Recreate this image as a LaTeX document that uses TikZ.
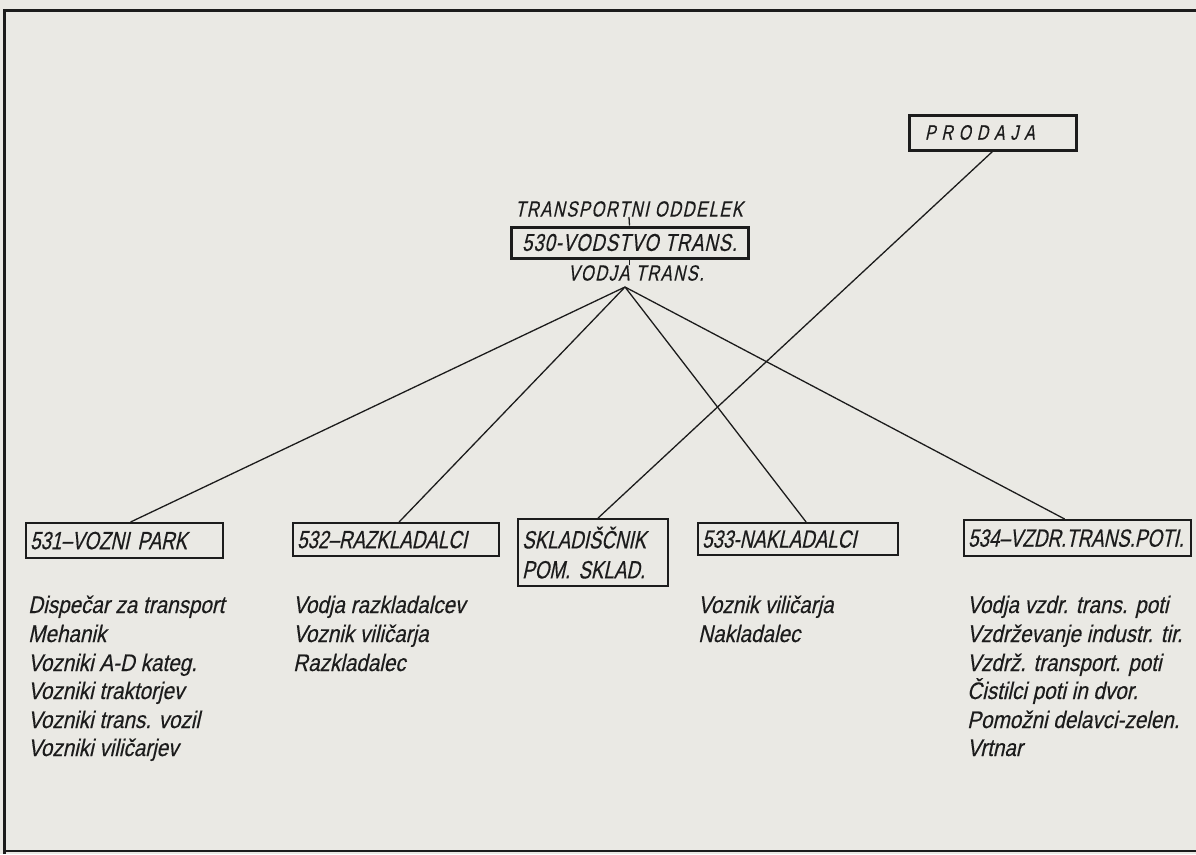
\documentclass[tikz,border=0pt]{standalone}
\usepackage{fontspec}
\newfontfamily\letterfont[FakeSlant=0.22,FakeStretch=0.75,FakeBold=0.4]{Liberation Sans}
\newfontfamily\jobfont[FakeSlant=0.22,FakeStretch=0.86,FakeBold=0.3]{Liberation Sans}
\definecolor{paper}{RGB}{234,233,228}
\definecolor{ink}{RGB}{28,28,28}

\begin{document}
\begin{tikzpicture}[x=1pt, y=-1pt, ink,
  unitbox/.style={draw,line width=2.2pt,anchor=north west,inner xsep=4pt,inner ysep=0pt,align=left,
    font=\letterfont\fontsize{25}{30}\selectfont},
  headbox/.style={draw,line width=3pt,inner sep=0pt,font=\letterfont\addfontfeature{LetterSpace=4}\fontsize{24.5}{28}\selectfont},
  headtext/.style={inner sep=0pt,font=\letterfont\addfontfeature{LetterSpace=7}\fontsize{22}{25}\selectfont},
  jobtext/.style={anchor=base west,inner sep=0pt,font=\jobfont\fontsize{24}{26}\selectfont},
  link/.style={line width=1.3pt}]
\useasboundingbox (0,0) rectangle (1196,854);
\fill[paper] (0,0) rectangle (1196,854);
% frame
\draw[line width=3pt] (4,854) -- (4,10) -- (1196,10);
\draw[line width=2pt] (4,851) -- (1196,851);

% head of the department
\node[headtext] (dept) at (629,209) {TRANSPORTNI ODDELEK};
\node[headbox,minimum width=237pt,minimum height=31pt] (b530) at (629.5,242.5) {530-VODSTVO TRANS.};
\node[headtext] (lead) at (636,273) {VODJA TRANS.};
\coordinate (hub) at (625,287);
\node[headbox,text width=135pt,inner xsep=16pt,minimum height=35pt,align=left,
  font=\letterfont\addfontfeature{LetterSpace=28}\fontsize{21}{25}\selectfont] (sales) at (992.5,132.5) {PRODAJA};
\draw[link] (dept.south) -- (b530.north);
\draw[link] (b530.south) -- (b530.south |- lead.north);

% units
\node[unitbox,text width=189pt,minimum height=35pt] (b531) at (25,522) {531–VOZNI PARK};
\node[unitbox,text width=198pt,minimum height=33pt] (b532) at (292,522) {532–RAZKLADALCI};
\node[unitbox,text width=142pt,minimum height=67pt] (bsklad) at (517,518) {SKLADIŠČNIK\\POM. SKLAD.};
\node[unitbox,text width=192pt,minimum height=32pt] (b533) at (697,522) {533-NAKLADALCI};
\node[unitbox,text width=219pt,minimum height=36pt] (b534) at (963,519) {534–VZDR.TRANS.POTI.};

\draw[link] (hub) -- ([xshift=6pt]b531.north);
\draw[link] (hub) -- ([xshift=3pt]b532.north);
\draw[link] (hub) -- ([xshift=8pt]b533.north);
\draw[link] (hub) -- ([xshift=-13pt]b534.north);
\draw[link] (sales.south) -- ([xshift=5pt]bsklad.north);

% jobs
\node[jobtext] (j11) at (28,613) {Dispečar za transport};
\node[jobtext] (j12) at (28,642) {Mehanik};
\node[jobtext] (j13) at (28,671) {Vozniki A-D kateg.};
\node[jobtext] (j14) at (28,699) {Vozniki traktorjev};
\node[jobtext] (j15) at (28,728) {Vozniki trans. vozil};
\node[jobtext] (j16) at (28,756) {Vozniki viličarjev};
\node[jobtext] (j21) at (293,613) {Vodja razkladalcev};
\node[jobtext] (j22) at (293,642) {Voznik viličarja};
\node[jobtext] (j23) at (293,671) {Razkladalec};
\node[jobtext] (j31) at (698,613) {Voznik viličarja};
\node[jobtext] (j32) at (698,642) {Nakladalec};
\node[jobtext] (j41) at (967,613) {Vodja vzdr. trans. poti};
\node[jobtext] (j42) at (967,642) {Vzdrževanje industr. tir.};
\node[jobtext] (j43) at (967,671) {Vzdrž. transport. poti};
\node[jobtext] (j44) at (967,699) {Čistilci poti in dvor.};
\node[jobtext] (j45) at (967,728) {Pomožni delavci-zelen.};
\node[jobtext] (j46) at (967,756) {Vrtnar};
\end{tikzpicture}
\end{document}
